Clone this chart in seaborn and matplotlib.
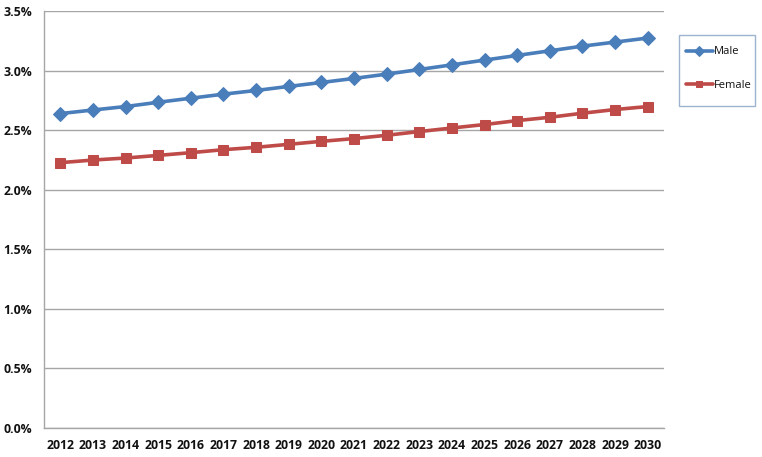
import matplotlib
matplotlib.use("Agg")
import matplotlib.pyplot as plt
import seaborn as sns
import pandas as pd
from matplotlib.ticker import FuncFormatter
from matplotlib.patches import Rectangle

years = [str(y) for y in range(2012, 2031)]
male = [2.639, 2.669, 2.698, 2.734, 2.768, 2.802, 2.833, 2.867, 2.900, 2.934,
        2.970, 3.009, 3.048, 3.088, 3.127, 3.166, 3.205, 3.239, 3.273]
female = [2.227, 2.249, 2.266, 2.288, 2.311, 2.336, 2.356, 2.381, 2.406, 2.429,
          2.457, 2.488, 2.518, 2.547, 2.580, 2.608, 2.642, 2.673, 2.698]
series = ["Male", "Female"]
colors = {"Male": "#4A7EBB", "Female": "#BE4B48"}
markers = {"Male": "D", "Female": "s"}

df = pd.DataFrame({"Year": years * 2,
                   "Value": male + female,
                   "Series": ["Male"] * len(years) + ["Female"] * len(years)})
df["x"] = list(range(len(years))) * 2

sns.set_style("white")
plt.rcParams["font.family"] = ["Open Sans", "DejaVu Sans"]

W, H = 762, 457
fig = plt.figure(figsize=(W / 100, H / 100), dpi=100)
ax = fig.add_axes([44 / W, 29 / H, 620 / W, 417 / H])

for s in series:
    d = df[df["Series"] == s]
    sns.lineplot(data=d, x="x", y="Value", ax=ax, color=colors[s], marker=markers[s],
                 markersize=7 if s == "Male" else 7.5, markeredgecolor=colors[s],
                 linewidth=2.6, label=s)

ax.set_xlim(-0.5, len(years) - 0.5)
ax.set_ylim(0, 3.5)
ax.set_yticks([i * 0.5 for i in range(8)])
ax.yaxis.set_major_formatter(FuncFormatter(lambda v, p: f"{v:.1f}%"))
ax.set_xticks(range(len(years)))
ax.set_xticklabels(years)
ax.set_xlabel("")
ax.set_ylabel("")
ax.grid(axis="y", color="#A6A6A6", linewidth=1)
ax.set_axisbelow(True)
for sp in ["top", "right"]:
    ax.spines[sp].set_visible(False)
for sp in ["left", "bottom"]:
    ax.spines[sp].set_color("#A6A6A6")
    ax.spines[sp].set_linewidth(1)
ax.tick_params(axis="x", direction="in", length=3, color="#A6A6A6", pad=8,
               labelsize=8.8, labelcolor="#111111")
ax.tick_params(axis="y", length=0, pad=8.5, labelsize=8.8, labelcolor="#111111")
for lab in ax.get_xticklabels() + ax.get_yticklabels():
    lab.set_fontweight("bold")

# legend frame (Excel style box)
fig.patches.append(Rectangle((679 / W, 1 - 106 / H), 76 / W, 71 / H,
                             transform=fig.transFigure, fill=False,
                             edgecolor="#9DB3CF", linewidth=1))
leg = ax.legend(loc="upper left", bbox_to_anchor=(686 / W, 1 - 46.5 / H),
                bbox_transform=fig.transFigure, frameon=False,
                fontsize=8, handlelength=2.4, handletextpad=0.12, labelspacing=2.05,
                borderpad=0, borderaxespad=0)
for h in leg.get_lines():
    h.set_markersize(5)
for t in leg.get_texts():
    t.set_color("#111111")

fig.savefig("out.png", dpi=100)
